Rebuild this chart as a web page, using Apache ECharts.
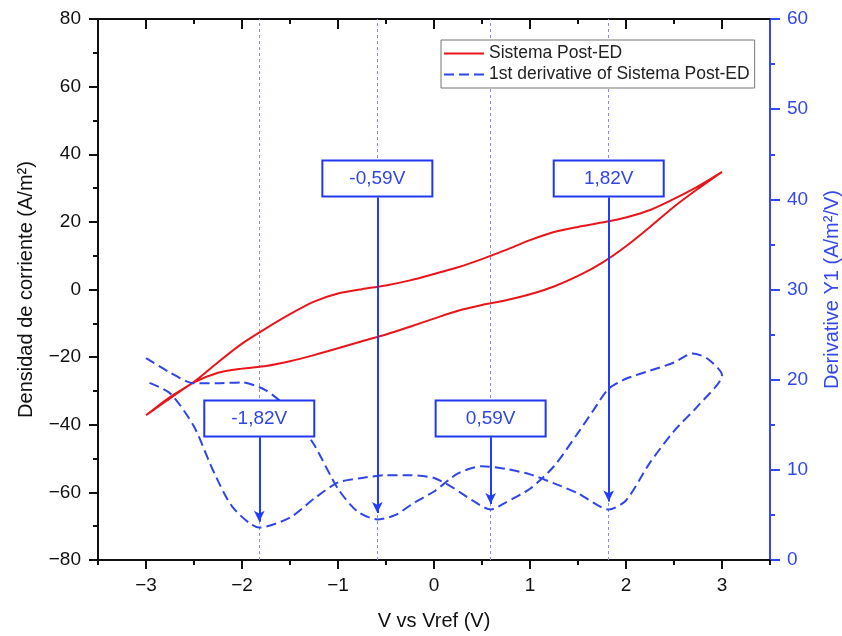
<!DOCTYPE html>
<html>
<head>
<meta charset="utf-8">
<script src="https://cdn.jsdelivr.net/npm/echarts@6/dist/echarts.min.js"></script>
<style>
  html, body { margin: 0; padding: 0; background: #fff; }
  #chart { width: 842px; height: 636px; }
</style>
</head>
<body>
<div id="chart"></div>
<script>
// Cyclic voltammogram: forward scan (-3 V -> 3 V) then reverse scan (3 V -> -3 V)
const cvPotential = [
  -3, -2.75, -2.5, -2.25, -2, -1.75, -1.5, -1.25, -1, -0.75, -0.5, -0.25, 0, 0.25, 0.5, 0.75, 1, 1.25, 1.5, 1.75, 2, 2.25, 2.5, 2.75, 3,
  2.75, 2.5, 2.25, 2, 1.75, 1.5, 1.25, 1, 0.75, 0.5, 0.25, 0, -0.25, -0.5, -0.75, -1, -1.25, -1.5, -1.75, -2, -2.25, -2.5, -2.75, -3
];
const cvCurrent = [
  -37.2, -32.2, -27.5, -24.6, -23.4, -22.6, -21.2, -19.4, -17.4, -15.3, -13.3, -11.0, -8.6, -6.3, -4.6, -3.2, -1.4, 0.9, 4.0, 7.9, 12.8, 18.5, 24.5, 29.8, 34.8,
  30.5, 26.8, 23.5, 21.3, 19.8, 18.5, 17.0, 14.6, 11.7, 9.0, 6.6, 4.6, 2.7, 1.2, 0.1, -1.2, -3.6, -7.3, -11.5, -16.0, -21.5, -27.3, -31.8, -37.2
];

// First derivative of the voltammogram (right axis)
const derivPotential = [
  -3, -2.75, -2.5, -2.25, -2, -1.75, -1.5, -1.25, -1, -0.8, -0.59, -0.4, -0.2, 0, 0.25, 0.5, 0.75, 1, 1.25, 1.5, 1.82, 2, 2.25, 2.5, 2.75, 3,
  2.84, 2.69, 2.5, 2.25, 2, 1.82, 1.66, 1.5, 1.25, 1, 0.75, 0.59, 0.4, 0.2, 0, -0.25, -0.5, -0.75, -1, -1.25, -1.5, -1.82, -2.1, -2.3, -2.5, -2.75, -3
];
const derivValue = [
  22.4, 20.8, 19.6, 19.6, 19.7, 18.8, 16.6, 12.8, 7.9, 5.4, 4.5, 5.0, 6.4, 7.6, 9.6, 10.4, 10.1, 9.5, 8.5, 7.4, 5.6, 6.6, 10.8, 14.3, 17.1, 20.5,
  22.4, 22.9, 21.9, 21.0, 20.1, 19.0, 16.6, 14.1, 10.4, 7.9, 6.4, 5.6, 6.6, 8.0, 9.1, 9.4, 9.4, 9.1, 8.6, 6.8, 4.7, 3.6, 5.9, 9.9, 14.8, 18.5, 19.8
];

// Peak potentials marked on the derivative
const peakPotential = [-1.82, -0.59, 0.59, 1.82];
const peakLabel = ['-1,82V', '-0,59V', '0,59V', '1,82V'];
const peakDerivative = [4.25, 5.2, 6.2, 6.5];

// Tick positions on the potential axis
const xTicks = [-3, -2, -1, 0, 1, 2, 3];
const xMinorTicks = [-3.5, -2.5, -1.5, -0.5, 0.5, 1.5, 2.5, 3.5];

// Annotation layout (right-axis units): label box centre and arrow start
const boxCentre = [15.7, 42.3, 15.7, 42.3];
const arrowStart = [13.6, 40.2, 13.6, 40.2];

const FONT = "'Liberation Sans', Arial, sans-serif";
const BLUE = '#2f45e8';
const AXIS_BLUE = '#3348f0';
const INK = '#111';
const minus = v => (v < 0 ? '\u2212' + Math.abs(v) : String(v));

const cvData = cvPotential.map((v, i) => [v, cvCurrent[i]]);
const derivData = derivPotential.map((v, i) => [v, derivValue[i]]);

const chart = echarts.init(document.getElementById('chart'), null, { renderer: 'canvas' });

const xBase = { type: 'value', min: -3.5, max: 3.5, gridIndex: 0, splitLine: { show: false } };
const tickStyle = { color: INK, width: 2 };

chart.setOption({
  backgroundColor: '#fff',
  animation: false,
  textStyle: { fontFamily: FONT },
  grid: { left: 98, right: 72, top: 19, bottom: 76, outerBoundsMode: 'none', containLabel: false },
  legend: {
    left: 441, top: 40,
    orient: 'vertical',
    padding: [3, 5, 3, 2],
    itemGap: 0,
    itemWidth: 40, itemHeight: 14,
    borderColor: '#777', borderWidth: 1,
    backgroundColor: '#fff',
    itemStyle: { color: 'rgba(0,0,0,0)', borderColor: 'rgba(0,0,0,0)', borderWidth: 0 },
    textStyle: { fontSize: 17.5, color: '#222', fontFamily: FONT, lineHeight: 21 },
    data: ['Sistema Post-ED', '1st derivative of Sistema Post-ED']
  },
  xAxis: [
    Object.assign({}, xBase, {
      position: 'bottom',
      name: 'V vs Vref (V)', nameLocation: 'middle', nameGap: 51,
      nameTextStyle: { fontSize: 20, color: INK, fontFamily: FONT },
      axisLine: { show: true, onZero: false, lineStyle: { color: INK, width: 2 } },
      axisTick: { show: true, inside: false, length: 9, lineStyle: tickStyle, customValues: xTicks },
      axisLabel: { show: true, margin: 16, fontSize: 19, color: INK, fontFamily: FONT, customValues: xTicks, formatter: minus }
    }),
    Object.assign({}, xBase, {
      position: 'bottom',
      axisLine: { show: false, onZero: false },
      axisTick: { show: true, inside: false, length: 5, lineStyle: tickStyle, customValues: xMinorTicks },
      axisLabel: { show: false, customValues: xMinorTicks }
    }),
    Object.assign({}, xBase, {
      position: 'top',
      axisLine: { show: true, onZero: false, lineStyle: { color: INK, width: 2 } },
      axisTick: { show: true, inside: true, length: 10, lineStyle: tickStyle, customValues: xTicks },
      axisLabel: { show: false, customValues: xTicks }
    }),
    Object.assign({}, xBase, {
      position: 'top',
      axisLine: { show: false, onZero: false },
      axisTick: { show: true, inside: true, length: 5, lineStyle: tickStyle, customValues: xMinorTicks.slice(1, -1) },
      axisLabel: { show: false, customValues: xMinorTicks.slice(1, -1) }
    })
  ],
  yAxis: [
    {
      type: 'value', position: 'left', min: -80, max: 80, interval: 20,
      name: 'Densidad de corriente (A/m\u00b2)', nameLocation: 'middle', nameGap: 62, nameRotate: 90,
      nameTextStyle: { fontSize: 20, color: INK, fontFamily: FONT },
      axisLine: { show: true, onZero: false, lineStyle: { color: INK, width: 2 } },
      axisTick: { show: true, inside: false, length: 9, lineStyle: tickStyle },
      minorTick: { show: true, splitNumber: 2, length: 5, lineStyle: tickStyle },
      axisLabel: { margin: 17, fontSize: 19, color: INK, fontFamily: FONT, formatter: minus },
      splitLine: { show: false }, minorSplitLine: { show: false }
    },
    {
      type: 'value', position: 'right', min: 0, max: 60, interval: 10,
      name: 'Derivative Y1 (A/m\u00b2/V)', nameLocation: 'middle', nameGap: 52, nameRotate: 90,
      nameTextStyle: { fontSize: 20, color: AXIS_BLUE, fontFamily: FONT },
      axisLine: { show: true, onZero: false, lineStyle: { color: AXIS_BLUE, width: 2 } },
      axisTick: { show: true, inside: false, length: 10, lineStyle: { color: AXIS_BLUE, width: 2 } },
      minorTick: { show: true, splitNumber: 2, length: 5, lineStyle: { color: AXIS_BLUE, width: 2 } },
      axisLabel: { margin: 17, fontSize: 19, color: AXIS_BLUE, fontFamily: FONT },
      splitLine: { show: false }, minorSplitLine: { show: false }
    }
  ],
  series: [
    {
      name: 'Sistema Post-ED',
      type: 'line',
      xAxisIndex: 0, yAxisIndex: 0,
      data: cvData,
      symbol: 'none',
      smooth: 0.25,
      z: 3,
      lineStyle: { color: '#e8161b', width: 2 },
      itemStyle: { color: '#e8161b' },
      markLine: {
        silent: true, symbol: ['none', 'none'], z: 1,
        label: { show: false },
        lineStyle: { color: '#8a8ae0', width: 1, type: [3, 3] },
        data: peakPotential.map(v => ({ xAxis: v }))
      }
    },
    {
      name: '1st derivative of Sistema Post-ED',
      type: 'line',
      xAxisIndex: 0, yAxisIndex: 1,
      data: derivData,
      symbol: 'none',
      smooth: 0.25,
      z: 4,
      lineStyle: { color: BLUE, width: 2, type: [10, 5] },
      itemStyle: { color: BLUE },
      markLine: {
        silent: true, z: 6,
        symbol: ['none', 'arrow'], symbolSize: [8, 11],
        label: { show: false },
        lineStyle: { color: '#1f3cff', width: 2, type: 'solid' },
        data: peakPotential.map((v, i) => [
          { coord: [v, arrowStart[i]] },
          { coord: [v, peakDerivative[i]] }
        ])
      },
      markPoint: {
        silent: true, z: 10,
        symbol: 'rect', symbolSize: 1,
        itemStyle: { color: 'rgba(0,0,0,0)' },
        label: {
          show: true, position: 'inside',
          fontSize: 19, color: BLUE, fontFamily: FONT,
          width: 108, height: 34, lineHeight: 34,
          align: 'center', verticalAlign: 'middle',
          backgroundColor: '#fff', borderColor: '#2038f0', borderWidth: 2
        },
        data: peakPotential.map((v, i) => ({
          coord: [v, boxCentre[i]],
          value: peakLabel[i],
          label: { formatter: peakLabel[i] }
        }))
      }
    }
  ]
});
</script>
</body>
</html>
